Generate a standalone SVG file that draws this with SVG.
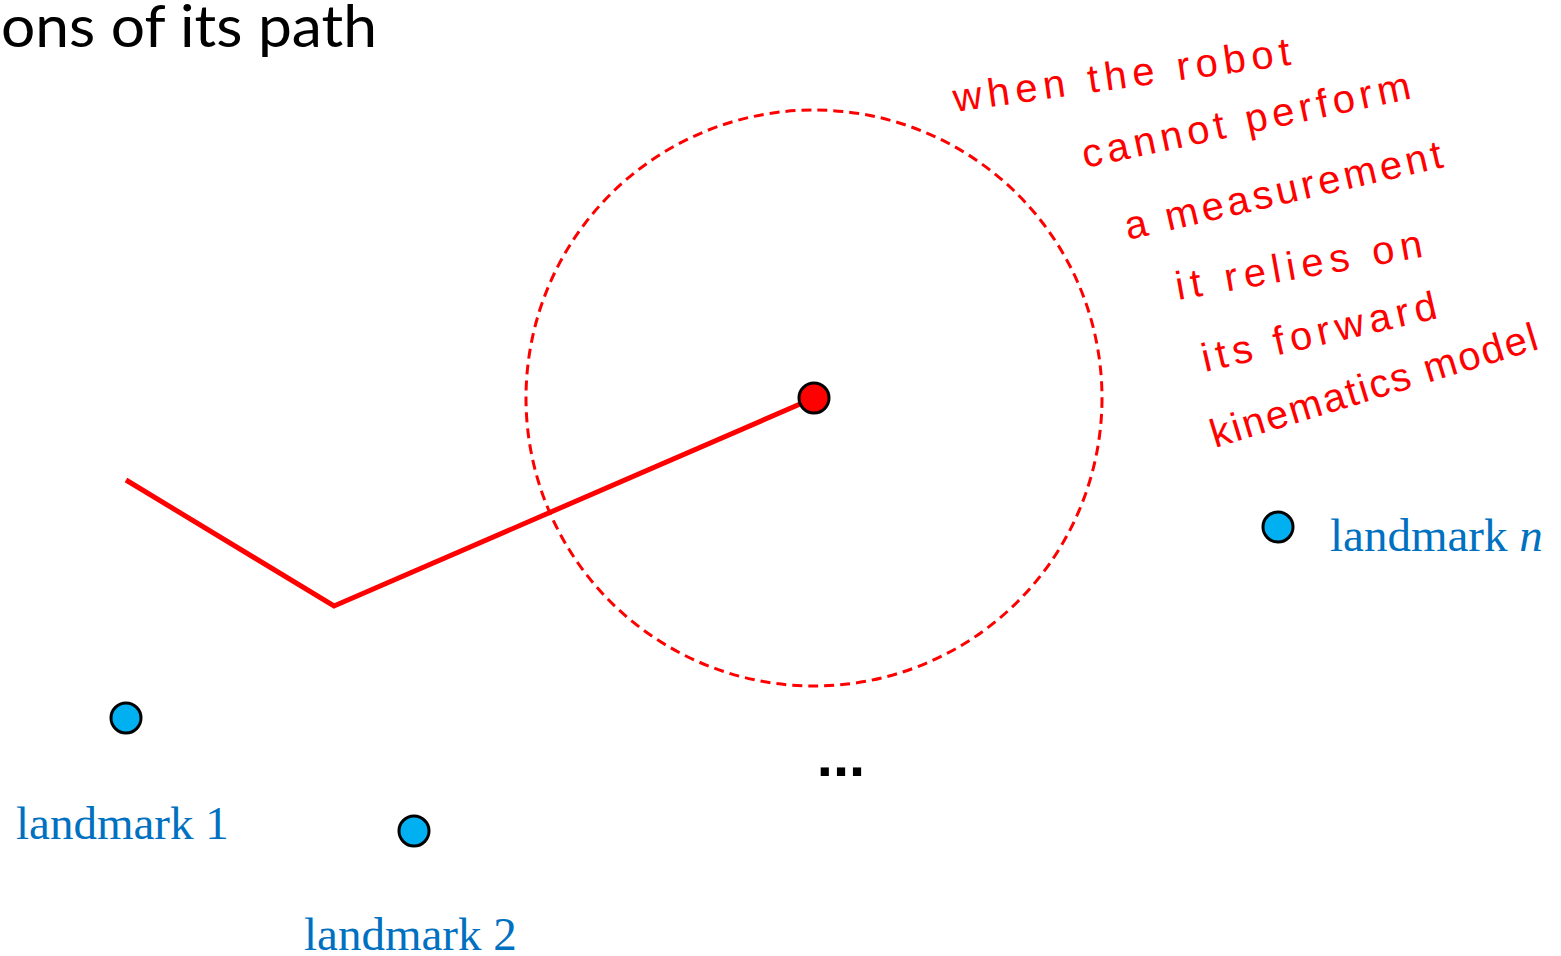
<svg xmlns="http://www.w3.org/2000/svg" width="1561" height="956" viewBox="0 0 1561 956">
<style>
.lm{fill:#00B0F0;stroke:#000;stroke-width:3}
.lbl{font-family:"Liberation Serif",serif;font-size:47px;fill:#0070C0}
.hw{font-family:"Liberation Sans",sans-serif;font-size:40px;fill:#FF0000}
</style>
<rect width="1561" height="956" fill="#fff"/>
<text x="1" y="47" font-family="Lato, sans-serif" font-size="58" fill="#000" textLength="376" lengthAdjust="spacingAndGlyphs">ons of its path</text>
<g id="uncertainty">
<circle cx="814" cy="398" r="288" fill="none" stroke="#FF0000" stroke-width="3" stroke-dasharray="10 6"/>
</g>
<g id="connectors">
<polyline points="126,480 334,606 814,398" fill="none" stroke="#FF0000" stroke-width="5"/>
</g>
<g id="robot"><circle cx="814" cy="398" r="15" fill="#FF0000" stroke="#000" stroke-width="3"/></g>
<g id="landmark-n"><circle class="lm" cx="1278" cy="527" r="15"/><text class="lbl" x="1330" y="551">landmark <tspan font-style="italic">n</tspan></text></g>
<g id="landmark-1"><circle class="lm" cx="126" cy="718" r="15"/><text class="lbl" x="16" y="839">landmark 1</text></g>
<g id="landmark-2"><circle class="lm" cx="414" cy="831" r="15"/><text class="lbl" x="304" y="950">landmark 2</text></g>
<g id="ellipsis"><text x="841" y="776" text-anchor="middle" font-family="Liberation Sans, sans-serif" font-size="58" font-weight="bold" fill="#000">...</text></g>
<g id="note">
<text class="hw" transform="translate(955,112) rotate(-8)" textLength="340" lengthAdjust="spacing">when the robot</text>
<text class="hw" transform="translate(1085,168) rotate(-12)" textLength="335" lengthAdjust="spacing">cannot perform</text>
<text class="hw" transform="translate(1128,240) rotate(-13)" textLength="325" lengthAdjust="spacing">a measurement</text>
<text class="hw" transform="translate(1178,300) rotate(-10)" textLength="250" lengthAdjust="spacing">it relies on</text>
<text class="hw" transform="translate(1205,372) rotate(-13)" textLength="240" lengthAdjust="spacing">its forward</text>
<text class="hw" transform="translate(1215,448) rotate(-17)" textLength="340" lengthAdjust="spacing">kinematics model</text>
</g>
</svg>
